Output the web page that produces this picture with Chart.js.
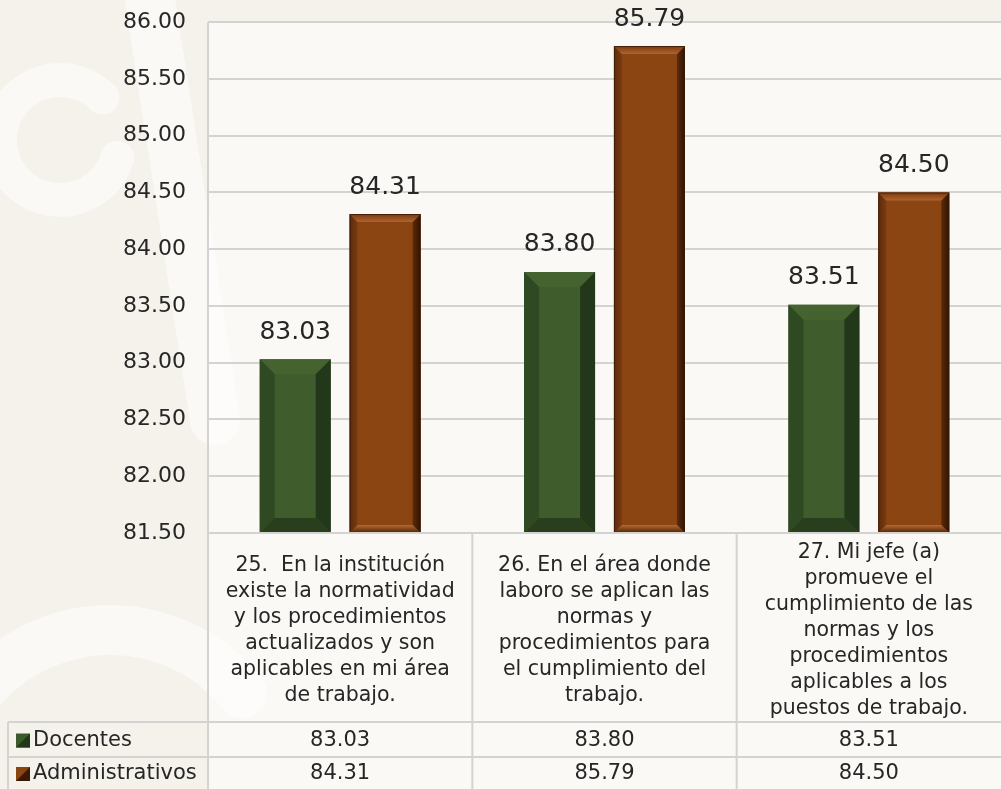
<!DOCTYPE html>
<html>
<head>
<meta charset="utf-8">
<script src="https://cdn.jsdelivr.net/npm/chart.js@4"></script>
<style>
  html, body { margin: 0; padding: 0; background: #f6f3ee; }
  #wrap { width: 1001px; height: 789px; position: relative; }
</style>
</head>
<body>
<div id="wrap"><canvas id="myChart" width="1001" height="789"></canvas></div>
<script>
// datos
var categorias = [
    ["25.  En la institución", "existe la normatividad", "y los procedimientos", "actualizados y son", "aplicables en mi área", "de trabajo."],
    ["26. En el área donde", "laboro se aplican las", "normas y", "procedimientos para", "el cumplimiento del", "trabajo."],
    ["27. Mi jefe (a)", "promueve el", "cumplimiento de las", "normas y los", "procedimientos", "aplicables a los", "puestos de trabajo."]
];
var docentes = [83.03, 83.80, 83.51];
var administrativos = [84.31, 85.79, 84.50];
var series = ["Docentes", "Administrativos"];
var yMin = 81.5, yMax = 86, yStep = 0.5;

var FONT = "'DejaVu Sans', sans-serif";
var TXT = '#262626';
var LINEA = '#d3d3d3';

// fondo con marca de agua suave
var fondo = {
    id: 'fondo',
    beforeDraw: function(chart) {
        var c = chart.ctx;
        c.save();
        c.fillStyle = '#f5f2ec';
        c.fillRect(0, 0, chart.width, chart.height);
        c.strokeStyle = 'rgba(255,255,255,0.5)';
        c.lineCap = 'round';
        c.lineWidth = 34;
        c.beginPath(); c.arc(60, 140, 60, 0.3, 5.5); c.stroke();
        c.lineWidth = 50;
        c.beginPath(); c.moveTo(150, 0); c.lineTo(215, 420); c.stroke();
        c.beginPath(); c.arc(110, 800, 170, 3.4, 5.6); c.stroke();
        c.fillStyle = 'rgba(255,255,255,0.55)';
        c.fillRect(208, 22, 793, 767);
        c.restore();
    }
};

function poly(c, pts, color) {
    c.beginPath();
    c.moveTo(pts[0][0], pts[0][1]);
    for (var i = 1; i < pts.length; i++) c.lineTo(pts[i][0], pts[i][1]);
    c.closePath();
    c.fillStyle = color;
    c.fill();
}

// biselado de las barras + etiquetas de valor
var bisel = {
    id: 'bisel',
    afterDatasetsDraw: function(chart) {
        var c = chart.ctx;
        var area = chart.chartArea;
        c.save();
        chart.data.datasets.forEach(function(ds, di) {
            var meta = chart.getDatasetMeta(di);
            meta.data.forEach(function(bar, i) {
                var l = bar.x - bar.width / 2, r = bar.x + bar.width / 2;
                var t = bar.y, b = Math.min(bar.base, area.bottom);
                if (di == 0) {
                    var k = 15;
                    poly(c, [[l, t], [r, t], [r - k, t + k], [l + k, t + k]], '#44632f');
                    poly(c, [[l, t], [l + k, t + k], [l + k, b - k], [l, b]], '#2f4923');
                    poly(c, [[r, t], [r - k, t + k], [r - k, b - k], [r, b]], '#23381a');
                    poly(c, [[l, b], [l + k, b - k], [r - k, b - k], [r, b]], '#283e1d');
                } else {
                    var k = 8;
                    var g = c.createLinearGradient(l, 0, l + k, 0);
                    g.addColorStop(0, '#5a2a0b'); g.addColorStop(1, '#7a3c12');
                    poly(c, [[l, t], [l + k, t + k], [l + k, b - k], [l, b]], g);
                    g = c.createLinearGradient(r - k, 0, r, 0);
                    g.addColorStop(0, '#5e2b0a'); g.addColorStop(1, '#2e1404');
                    poly(c, [[r, t], [r - k, t + k], [r - k, b - k], [r, b]], g);
                    g = c.createLinearGradient(0, t, 0, t + k);
                    g.addColorStop(0, '#7a3a10'); g.addColorStop(1, '#b0642e');
                    poly(c, [[l, t], [r, t], [r - k, t + k], [l + k, t + k]], g);
                    g = c.createLinearGradient(0, b - k, 0, b);
                    g.addColorStop(0, '#b8682f'); g.addColorStop(1, '#4a2208');
                    poly(c, [[l, b], [l + k, b - k], [r - k, b - k], [r, b]], g);
                    c.strokeStyle = 'rgba(60,25,5,0.8)';
                    c.lineWidth = 1;
                    c.strokeRect(l + 0.5, t + 0.5, bar.width - 1, b - t - 1);
                }
                c.fillStyle = TXT;
                c.font = '25px ' + FONT;
                c.textAlign = 'center';
                c.textBaseline = 'middle';
                c.fillText(ds.data[i].toFixed(2), bar.x, t - 27);
            });
        });
        c.restore();
    }
};

// tabla de datos debajo del eje
var tabla = {
    id: 'tabla',
    afterDraw: function(chart) {
        var c = chart.ctx;
        var area = chart.chartArea;
        var x = chart.scales.x;
        var H = chart.height;
        var fila1 = 722, fila2 = 757;
        var n = categorias.length;
        var paso = (area.right - area.left) / n;
        c.save();
        c.strokeStyle = LINEA;
        c.lineWidth = 2;
        c.beginPath();
        c.moveTo(area.left, area.bottom); c.lineTo(area.right, area.bottom);
        c.moveTo(8, fila1); c.lineTo(area.right, fila1);
        c.moveTo(8, fila2); c.lineTo(area.right, fila2);
        c.moveTo(8, fila1); c.lineTo(8, H);
        c.moveTo(area.left, area.top); c.lineTo(area.left, H);
        for (var i = 1; i < n; i++) {
            c.moveTo(area.left + paso * i, area.bottom);
            c.lineTo(area.left + paso * i, H);
        }
        c.stroke();

        c.fillStyle = TXT;
        c.textAlign = 'center';
        c.textBaseline = 'middle';
        c.font = '20.5px ' + FONT;
        var lh = 26;
        categorias.forEach(function(lines, i) {
            var cx = x.getPixelForValue(i);
            var y0 = (area.bottom + fila1) / 2 + 3 - (lines.length - 1) * lh / 2;
            lines.forEach(function(s, j) { c.fillText(s, cx, y0 + j * lh); });
        });

        var filas = [docentes, administrativos];
        var ys = [(fila1 + fila2) / 2 + 1, (fila2 + H) / 2 + 1];
        var sq = [['#3d5a2a', '#23381a'], ['#8b4513', '#3a1a06']];
        c.font = '21px ' + FONT;
        filas.forEach(function(vals, r) {
            c.fillStyle = sq[r][0];
            c.fillRect(16, ys[r] - 7, 14, 14);
            poly(c, [[30, ys[r] - 7], [30, ys[r] + 7], [16, ys[r] + 7]], sq[r][1]);
            c.fillStyle = TXT;
            c.textAlign = 'left';
            c.fillText(series[r], 33, ys[r]);
            c.textAlign = 'center';
            vals.forEach(function(v, i) {
                c.fillText(v.toFixed(2), x.getPixelForValue(i), ys[r]);
            });
        });
        c.restore();
    }
};

window.onload = function() {
    var ctx = document.getElementById('myChart').getContext('2d');
    new Chart(ctx, {
        type: 'bar',
        data: {
            labels: categorias,
            datasets: [{
                label: series[0],
                data: docentes,
                backgroundColor: '#3e5c2c',
                borderWidth: 0,
                categoryPercentage: 0.68,
                barPercentage: 0.79
            }, {
                label: series[1],
                data: administrativos,
                backgroundColor: '#8b4513',
                borderWidth: 0,
                categoryPercentage: 0.68,
                barPercentage: 0.79
            }]
        },
        plugins: [fondo, bisel, tabla],
        options: {
            responsive: false,
            animation: false,
            devicePixelRatio: 1,
            layout: { padding: { top: 0, right: 0, bottom: 0, left: 0 } },
            plugins: {
                legend: { display: false },
                tooltip: { enabled: false },
                title: { display: false }
            },
            scales: {
                x: {
                    ticks: { display: false },
                    grid: { display: false },
                    border: { display: false },
                    afterFit: function(s) { s.height = 256; }
                },
                y: {
                    min: yMin,
                    max: yMax,
                    ticks: {
                        stepSize: yStep,
                        color: TXT,
                        font: { family: FONT, size: 22 },
                        padding: 9,
                        callback: function(v) { return Number(v).toFixed(2); }
                    },
                    grid: { color: LINEA, lineWidth: 2, drawTicks: true, tickLength: 13, tickColor: 'rgba(0,0,0,0)' },
                    border: { display: false },
                    afterFit: function(s) { s.width = 208; }
                }
            }
        }
    });
};
</script>
</body>
</html>
